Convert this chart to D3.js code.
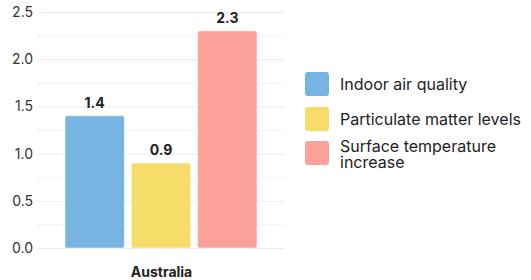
<!DOCTYPE html>
<html><head><meta charset="utf-8">
<script src="https://cdn.jsdelivr.net/npm/d3@7"></script>
<style>body{margin:0;background:#fff;} text{font-family:Inter, "DejaVu Sans", sans-serif;}</style>
</head><body><svg id="c" width="531" height="280"></svg>
<script>
const categories = ["Australia"];
const seriesNames = ["Indoor air quality","Particulate matter levels","Surface temperature increase"];
const seriesValues = [[1.4],[0.9],[2.3]];
const seriesColors = ["#78b4e1","#f6dc68","#fca19a"];
const yTicks = [0,0.5,1.0,1.5,2.0,2.5];

const svg = d3.select("#c");
const m = {l:38, r:246, t:12, b:32};
const W = 531, H = 280;
const x0 = d3.scaleBand().domain(categories).range([m.l, W-m.r]).padding(0);
const y = d3.scaleLinear().domain([0,2.5]).range([H-m.b, m.t]);
const x1 = d3.scaleBand().domain(seriesNames).range([65-m.l, 257-m.l]).paddingInner(0.105);

// grid
const g = svg.append("g");
const minor = d3.range(0.25, 2.5, 0.5);
g.selectAll(".mn").data(minor).join("line")
 .attr("x1", m.l).attr("x2", W-m.r).attr("y1", d=>y(d)+0.5).attr("y2", d=>y(d)+0.5)
 .attr("stroke","#e6e6e6").attr("stroke-dasharray","2,2");
g.selectAll(".mj").data(yTicks).join("line")
 .attr("x1", m.l).attr("x2", W-m.r).attr("y1", d=>y(d)+0.5).attr("y2", d=>y(d)+0.5)
 .attr("stroke","#ebebeb");

// y axis
const ya = svg.append("g").attr("transform",`translate(${m.l-5},0)`)
 .call(d3.axisLeft(y).tickValues(yTicks).tickFormat(d3.format(".1f")).tickSize(0).tickPadding(0));
ya.select(".domain").remove();
ya.selectAll("text").attr("font-size",14).attr("fill","#333").attr("font-family","Inter, sans-serif");

// bars
const grp = svg.selectAll(".grp").data(categories).join("g").attr("transform", d=>`translate(${x0(d)},0)`);
seriesNames.forEach((s,i)=>{
  const v = seriesValues[i][0];
  grp.append("rect").attr("x", x1(s)).attr("y", y(v)).attr("width", x1.bandwidth())
    .attr("height", y(0)-y(v)).attr("rx",2).attr("fill", seriesColors[i])
    .attr("stroke","#ffffff").attr("stroke-opacity",0.5).attr("stroke-width",1);
  grp.append("text").attr("x", x1(s)+x1.bandwidth()/2).attr("y", y(v)-8)
    .attr("text-anchor","middle").attr("font-size",14).attr("font-weight","bold").attr("fill","#222")
    .text(d3.format(".1f")(v));
});

// x label
svg.selectAll(".xl").data(categories).join("text")
 .attr("x", d=>x0(d)+x0.bandwidth()/2).attr("y", 277)
 .attr("text-anchor","middle").attr("font-size",14).attr("font-weight","bold").attr("fill","#222").text(d=>d);

// legend
const lg = svg.append("g").attr("transform","translate(305,72)");
const lines = [["Indoor air quality"],["Particulate matter levels"],["Surface temperature","increase"]];
const offs = [0,35,69];
seriesNames.forEach((s,i)=>{
  const it = lg.append("g").attr("transform",`translate(0,${offs[i]})`);
  it.append("rect").attr("width",24).attr("height",24).attr("rx",3).attr("fill",seriesColors[i]);
  const t = it.append("text").attr("x",35).attr("font-size",16).attr("fill","#222");
  const ls = lines[i];
  const y0 = ls.length===1 ? 18 : 11;
  ls.forEach((l,j)=>t.append("tspan").attr("x",35).attr("y",y0+j*16).text(l));
});
</script></body></html>
